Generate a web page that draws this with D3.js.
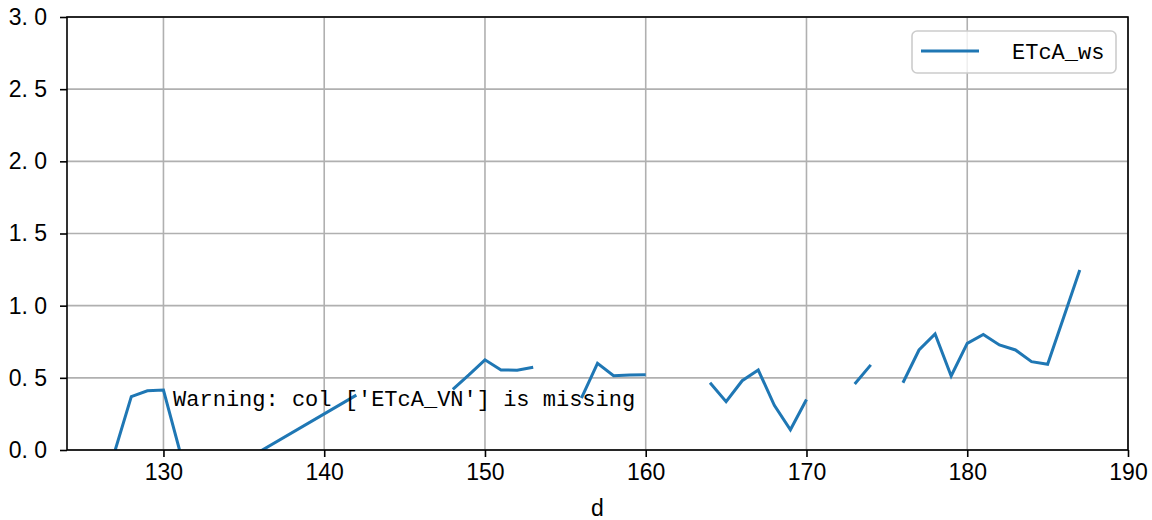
<!DOCTYPE html>
<html><head><meta charset="utf-8">
<script src="https://cdn.jsdelivr.net/npm/d3@7"></script>
<style>
body{margin:0;background:#fff;}
</style></head>
<body><svg id="chart" width="1152" height="520"></svg>
<script>
const days = [127,128,129,130,131,132,136,142,143,148,149,150,151,152,153,154,156,157,158,159,160,161,164,165,166,167,168,169,170,171,173,174,175,176,177,178,179,180,181,182,183,184,185,186,187];
const etcaWs = [0,0.37,0.41,0.415,0,null,-0.01,0.38,null,0.42,0.52,0.625,0.555,0.553,0.573,null,0.36,0.6,0.515,0.52,0.522,null,0.466,0.335,0.48,0.554,0.31,0.14,0.35,null,0.457,0.59,null,0.466,0.693,0.804,0.513,0.739,0.80,0.728,0.693,0.612,0.594,0.92,1.247];
const xTicks = [130,140,150,160,170,180,190];
const yTicks = [0,0.5,1.0,1.5,2.0,2.5,3.0];
const seriesName = "ETcA_ws";
const warningText = "Warning: col ['ETcA_VN'] is missing";
const xLabel = "d";

const W=1152,H=520, m={l:67,r:24,t:17,b:70};
const svg=d3.select("#chart");
const x=d3.scaleLinear().domain([124,190]).range([m.l,W-m.r]);
const y=d3.scaleLinear().domain([0,3]).range([H-m.b,m.t]);
const color="#1f77b4";
const sans="'Liberation Sans', Arial, sans-serif";
const mono="'Liberation Mono', 'DejaVu Sans Mono', monospace";

// grid
svg.append("g").selectAll("line").data(xTicks).join("line")
  .attr("x1",d=>x(d)).attr("x2",d=>x(d)).attr("y1",y(0)).attr("y2",y(3))
  .attr("stroke","#b0b0b0").attr("stroke-width",1.6);
svg.append("g").selectAll("line").data(yTicks).join("line")
  .attr("x1",x(124)).attr("x2",x(190)).attr("y1",d=>y(d)).attr("y2",d=>y(d))
  .attr("stroke","#b0b0b0").attr("stroke-width",1.6);

svg.append("clipPath").attr("id","clip").append("rect")
  .attr("x",m.l).attr("y",m.t).attr("width",W-m.l-m.r).attr("height",H-m.t-m.b);

const data=days.map((d,i)=>({d,v:etcaWs[i]}));
const line=d3.line().defined(p=>p.v!=null).x(p=>x(p.d)).y(p=>y(p.v));
svg.append("path").datum(data).attr("d",line).attr("fill","none")
  .attr("stroke",color).attr("stroke-width",3).attr("clip-path","url(#clip)");

// axes
const xAxis=d3.axisBottom(x).tickValues(xTicks).tickFormat(d3.format("d")).tickSize(7).tickPadding(7);
const yAxis=d3.axisLeft(y).tickValues(yTicks).tickFormat(d=>d3.format(".1f")(d).replace(".",". ")).tickSize(7).tickPadding(13);
const gx=svg.append("g").attr("transform",`translate(0,${y(0)})`).call(xAxis);
const gy=svg.append("g").attr("transform",`translate(${x(124)},0)`).call(yAxis);
[gx,gy].forEach(g=>{
  g.select(".domain").remove();
  g.selectAll(".tick line").attr("stroke","#000").attr("stroke-width",1.6);
  g.selectAll(".tick text").attr("fill","#000")
   .style("font-family",sans).style("font-size","23px").style("white-space","pre");
});
// frame
svg.append("rect").attr("x",m.l).attr("y",m.t).attr("width",W-m.l-m.r).attr("height",H-m.t-m.b)
  .attr("fill","none").attr("stroke","#000").attr("stroke-width",1.6);

// x label
svg.append("text").attr("x",x(157)).attr("y",516).attr("text-anchor","middle")
  .style("font-size","23px").style("font-family",sans).text(xLabel);

// warning text
svg.append("text").attr("x",m.l+(W-m.l-m.r)*0.1).attr("y",406)
  .style("font-size","22px").style("font-family",mono)
  .attr("fill","#000").text(warningText);

// legend
const lg=svg.append("g");
lg.append("rect").attr("x",912).attr("y",31).attr("width",204).attr("height",42).attr("rx",5)
  .attr("fill","rgba(255,255,255,0.8)").attr("stroke","#cccccc").attr("stroke-width",1.6);
lg.append("line").attr("x1",921).attr("x2",979).attr("y1",51).attr("y2",51)
  .attr("stroke",color).attr("stroke-width",3);
lg.append("text").attr("x",1012).attr("y",59).style("font-size","22px").style("font-family",mono).text(seriesName);
</script></body></html>
